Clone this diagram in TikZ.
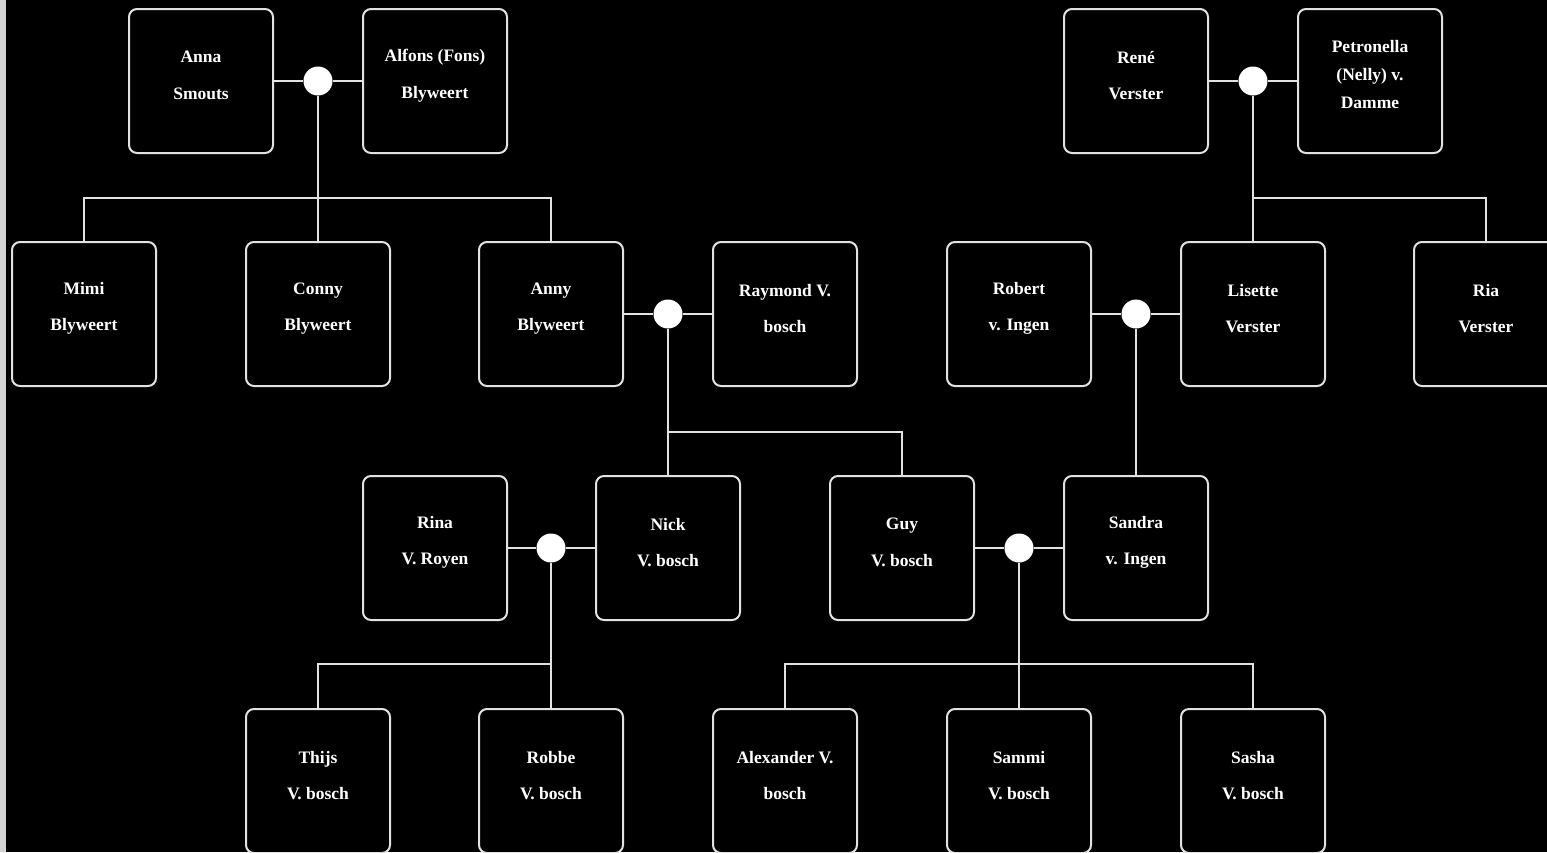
\documentclass[tikz,border=0pt]{standalone}
\usepackage{fontspec}
\setmainfont{Liberation Serif}
\definecolor{bg}{HTML}{000000}
\definecolor{ln}{HTML}{E2E2E2}
\definecolor{strip}{HTML}{D4D4D4}
\newcommand\person[4]{%
  \node[pbox] (#1) at (#2,#3) {};
  \node[ptext] (#1-t) at ([yshift=5.5pt]#1.center) {#4};}
\begin{document}
\begin{tikzpicture}[x=1pt,y=-1pt,
  pbox/.style={draw=ln,line width=2pt,fill=bg,rounded corners=8pt,minimum width=144pt,minimum height=144pt,inner sep=0pt},
  ptext/.style={text=white,font=\fontsize{17.5}{36.5}\selectfont\bfseries,align=center,inner sep=0pt},
  ptext3/.style={text=white,font=\fontsize{17.5}{28}\selectfont\bfseries,align=center,inner sep=0pt},
  udot/.style={circle,fill=white,draw=none,minimum size=29pt,inner sep=0pt},
  conn/.style={draw=ln,line width=2.2pt}]
\useasboundingbox (0,0) rectangle (1547,852);
\clip (0,0) rectangle (1547,852);
\fill[bg] (0,0) rectangle (1547,852);
\fill[strip] (0,0) rectangle (6,852);

% coordinates of buses
\coordinate (bus1) at (318,198);
\coordinate (bus2) at (1253,198);
\coordinate (bus3) at (668,432);
\coordinate (bus5) at (551,664);
\coordinate (bus6) at (1019,664);

% people
\person{anna}{201}{81}{Anna\\Smouts}
\person{alfons}{435}{81}{Alfons (Fons)\\Blyweert}
\person{rene}{1136}{81}{René\\Verster}
\node[pbox] (petronella) at (1370,81) {};
\node[ptext3] (petronella-t) at ([yshift=6pt]petronella.center) {Petronella\\(Nelly) v.\\Damme};

\person{mimi}{84}{314}{Mimi\\Blyweert}
\person{conny}{318}{314}{Conny\\Blyweert}
\person{anny}{551}{314}{Anny\\Blyweert}
\person{raymond}{785}{314}{Raymond V.\\bosch}
\person{robert}{1019}{314}{Robert\\v. Ingen}
\person{lisette}{1253}{314}{Lisette\\Verster}
\person{ria}{1486}{314}{Ria\\Verster}

\person{rina}{435}{548}{Rina\\V. Royen}
\person{nick}{668}{548}{Nick\\V. bosch}
\person{guy}{902}{548}{Guy\\V. bosch}
\person{sandra}{1136}{548}{Sandra\\v. Ingen}

\person{thijs}{318}{781}{Thijs\\V. bosch}
\person{robbe}{551}{781}{Robbe\\V. bosch}
\person{alexander}{785}{781}{Alexander V.\\bosch}
\person{sammi}{1019}{781}{Sammi\\V. bosch}
\person{sasha}{1253}{781}{Sasha\\V. bosch}

% union dots
\node[udot] (u1) at (318,81) {};
\node[udot] (u2) at (1253,81) {};
\node[udot] (u3) at (668,314) {};
\node[udot] (u4) at (1136,314) {};
\node[udot] (u5) at (551,548) {};
\node[udot] (u6) at (1019,548) {};

% connectors
\draw[conn] (anna) -- (u1) -- (alfons);
\draw[conn] (u1) -- (conny);
\draw[conn] (mimi) |- (bus1) -| (anny);

\draw[conn] (rene) -- (u2) -- (petronella);
\draw[conn] (u2) -- (lisette);
\draw[conn] (bus2) -| (ria);

\draw[conn] (anny) -- (u3) -- (raymond);
\draw[conn] (u3) -- (nick);
\draw[conn] (bus3) -| (guy);

\draw[conn] (robert) -- (u4) -- (lisette);
\draw[conn] (u4) -- (sandra);

\draw[conn] (rina) -- (u5) -- (nick);
\draw[conn] (u5) -- (robbe);
\draw[conn] (bus5) -| (thijs);

\draw[conn] (guy) -- (u6) -- (sandra);
\draw[conn] (u6) -- (sammi);
\draw[conn] (alexander) |- (bus6) -| (sasha);
\end{tikzpicture}
\end{document}
